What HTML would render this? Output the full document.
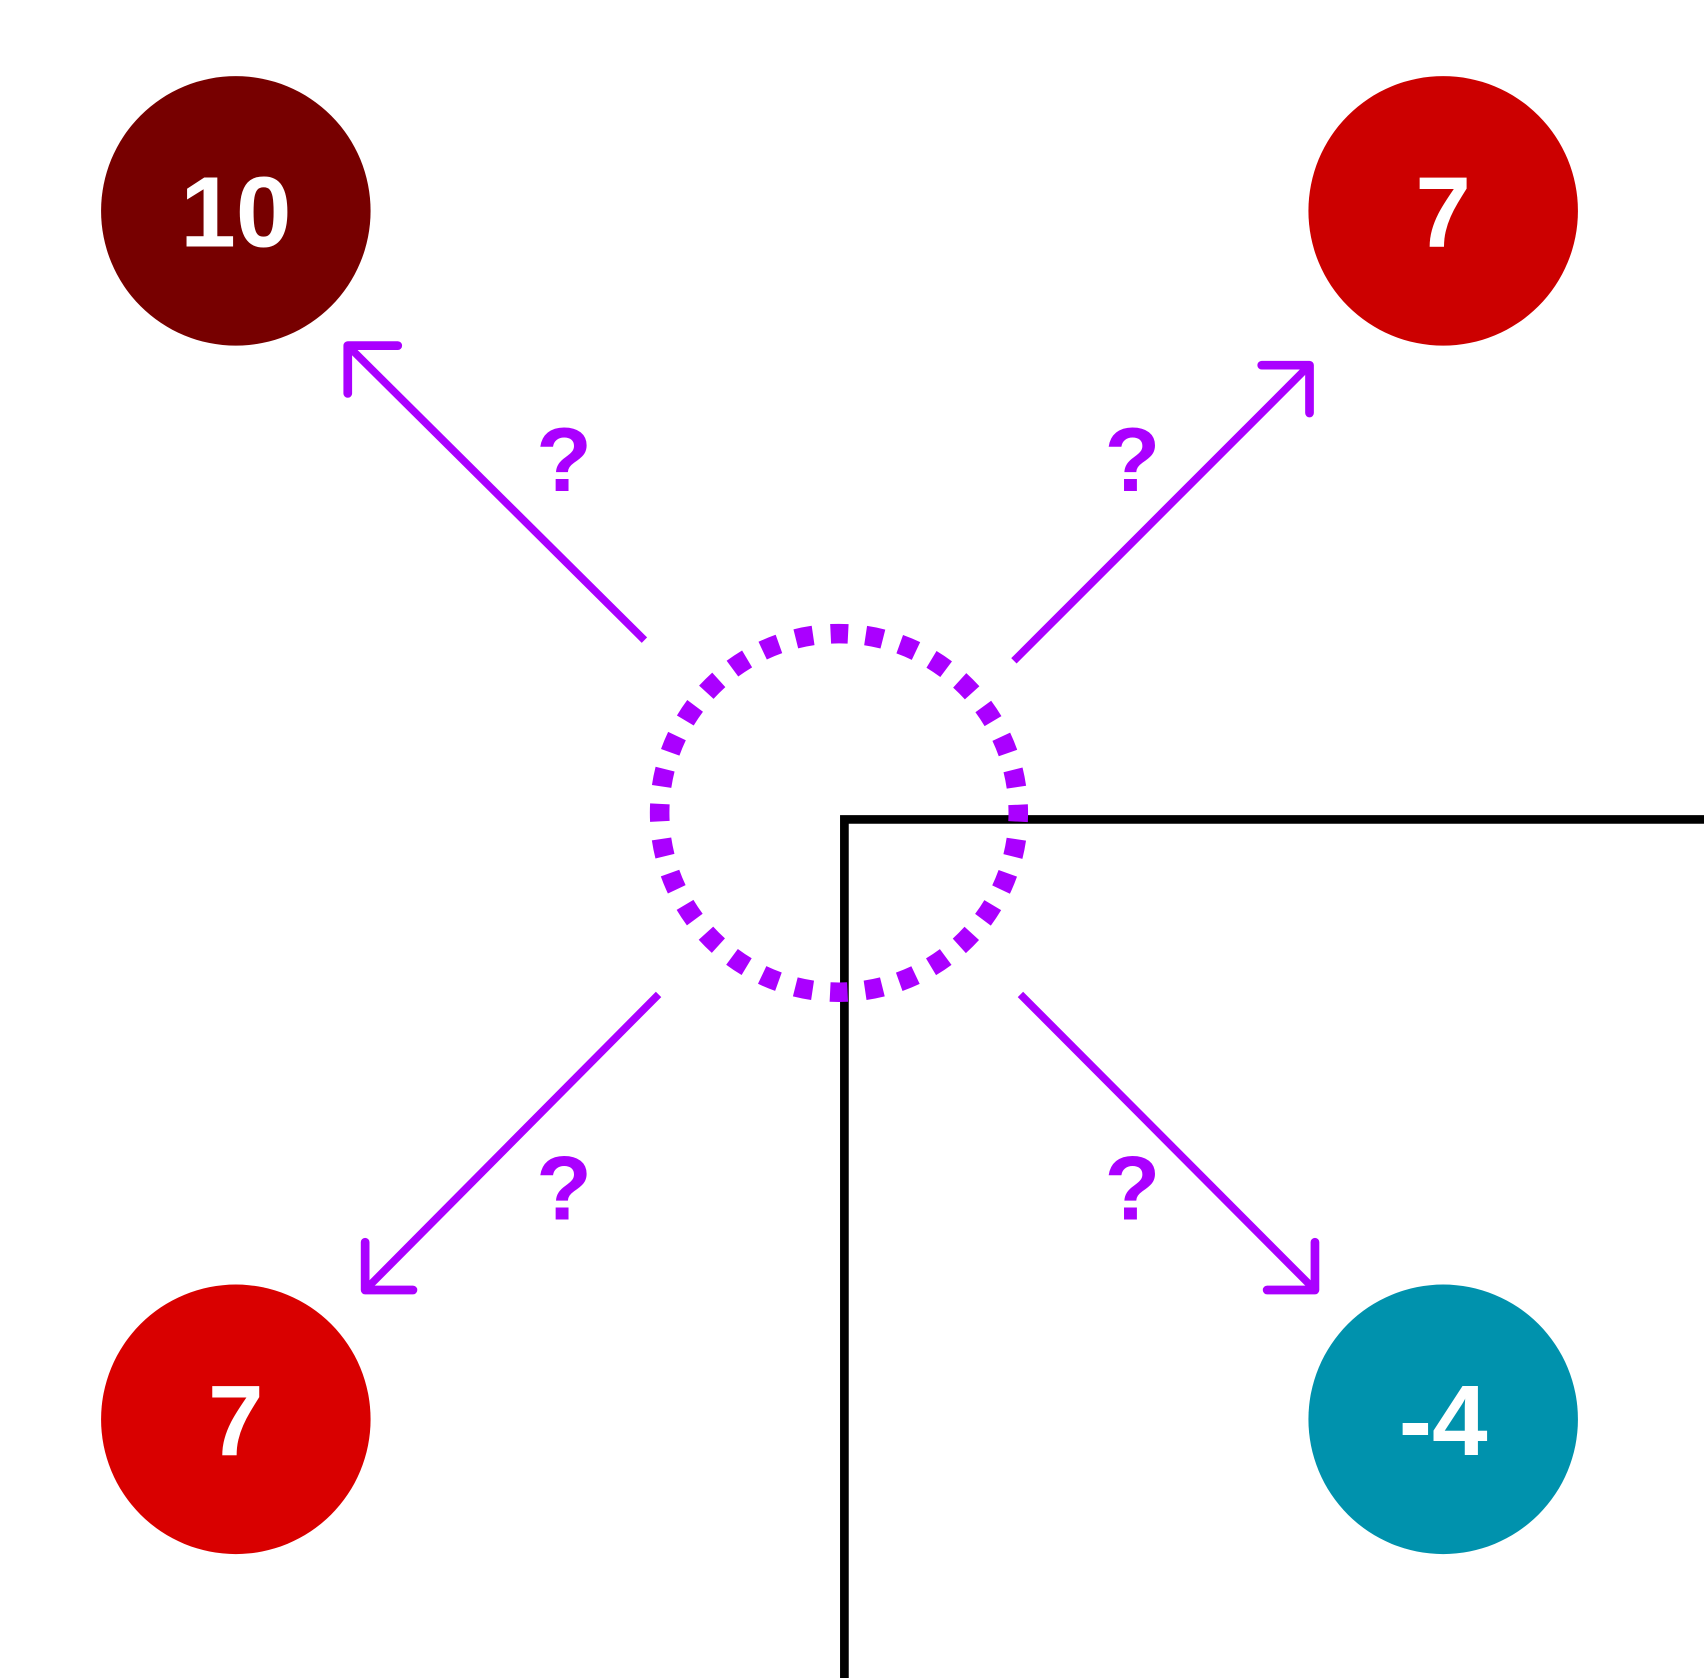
<!DOCTYPE html>
<html><head><style>html,body{margin:0;padding:0;background:#fff;}svg{display:block}</style></head>
<body>
<svg width="1704" height="1678" viewBox="0 0 1568 1544" xmlns="http://www.w3.org/2000/svg">
<g font-family="Liberation Sans, sans-serif" font-weight="bold" text-anchor="middle">
<circle cx="217" cy="194" r="124" fill="#770000"/>
<text x="217" y="227" font-size="92" fill="#fff">10</text>
<circle cx="1328" cy="194" r="124" fill="#cc0000"/>
<text x="1328" y="227" font-size="92" fill="#fff">7</text>
<circle cx="217" cy="1306" r="124" fill="#d90000"/>
<text x="217" y="1339" font-size="92" fill="#fff">7</text>
<circle cx="1328" cy="1306" r="124" fill="#0092ad"/>
<text x="1328" y="1339" font-size="92" fill="#fff">-4</text>
<path d="M777 1544 V754 H1568" fill="none" stroke="#000" stroke-width="8"/>
<circle cx="772" cy="748" r="165" fill="none" stroke="#aa00ff" stroke-width="18" stroke-dasharray="16.2 16.2" stroke-dashoffset="8.1"/>
<g stroke="#aa00ff" stroke-width="7" fill="none" stroke-linecap="butt">
<line x1="593" y1="589" x2="320" y2="318"/>
<line x1="933" y1="608" x2="1205" y2="336"/>
<line x1="606" y1="915" x2="336" y2="1187"/>
<line x1="939" y1="915" x2="1210" y2="1187"/>
</g>
<g stroke="#aa00ff" stroke-width="8" fill="none" stroke-linecap="round" stroke-linejoin="round">
<path d="M366 318 H320 V362"/>
<path d="M1161 336 H1205 V380"/>
<path d="M380 1187 H336 V1143"/>
<path d="M1166 1187 H1210 V1143"/>
</g>
<g font-size="84" fill="#aa00ff">
<text x="519" y="452">?</text>
<text x="1042" y="452">?</text>
<text x="519" y="1122">?</text>
<text x="1042" y="1122">?</text>
</g>
</g>
</svg>
</body></html>
